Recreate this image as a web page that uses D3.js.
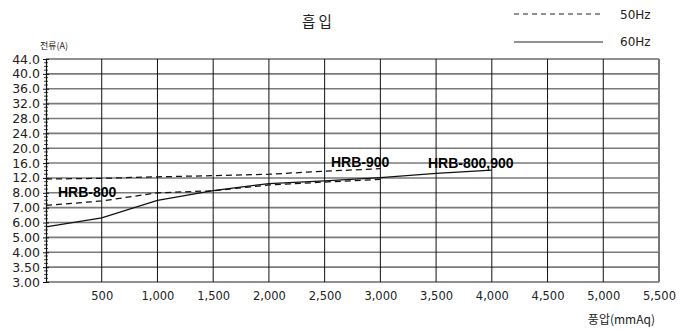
<!DOCTYPE html>
<html>
<head>
<meta charset="utf-8">
<script src="https://cdn.jsdelivr.net/npm/d3@7"></script>
<style>
  html, body { margin: 0; padding: 0; background: #fff; }
  svg { display: block; }
  text { font-family: "DejaVu Sans", sans-serif; fill: #222; }
</style>
</head>
<body>
<svg id="chart" width="687" height="330"></svg>
<script>
// Current (A) vs. static pressure (mmAq), suction side
const yTicks = [44.0, 40.0, 36.0, 32.0, 28.0, 24.0, 20.0, 16.0, 12.0, 8.00, 7.00, 6.00, 5.00, 4.00, 3.50, 3.00];
const yTickLabels = ["44.0", "40.0", "36.0", "32.0", "28.0", "24.0", "20.0", "16.0", "12.0", "8.00", "7.00", "6.00", "5.00", "4.00", "3.50", "3.00"];
const xTicks = [500, 1000, 1500, 2000, 2500, 3000, 3500, 4000, 4500, 5000, 5500];

// 50Hz – HRB-900
const hz50_900_x = [0, 500, 1000, 1500, 2000, 2500, 3000];
const hz50_900_y = [11.7, 11.9, 12.3, 12.6, 13.0, 13.8, 14.5];
// 50Hz – HRB-800
const hz50_800_x = [0, 500, 1000, 1500, 2000, 2500, 3000];
const hz50_800_y = [7.15, 7.45, 8.0, 8.55, 10.1, 10.9, 11.6];
// 60Hz – HRB-800,900
const hz60_x = [0, 500, 1000, 1500, 2000, 2500, 3000, 3500, 4000];
const hz60_y = [5.71, 6.31, 7.49, 8.6, 10.5, 11.2, 12.1, 13.2, 14.1];

const svg = d3.select("#chart");
const plotL = 46, plotR = 659, plotT = 59, plotB = 282;

const x = d3.scaleLinear().domain([0, 5500]).range([plotL, plotR]);
// evenly spaced rows, piecewise linear between labelled values
const yAsc = yTicks.slice().reverse();
const y = d3.scaleLinear()
  .domain(yAsc)
  .range(yAsc.map((d, i) => plotB - i * (plotB - plotT) / (yAsc.length - 1)));

// horizontal grid
svg.append("g").selectAll("line").data(yTicks).join("line")
  .attr("x1", plotL).attr("x2", plotR)
  .attr("y1", d => y(d)).attr("y2", d => y(d))
  .attr("stroke", d => d === 44.0 || d === 3.00 ? "#222" : "#7a7a7a")
  .attr("stroke-width", d => d === 44.0 || d === 3.00 ? 1.2 : 1.6);

// vertical grid
svg.append("g").selectAll("line").data(xTicks.slice(0, -1)).join("line")
  .attr("x1", d => x(d)).attr("x2", d => x(d))
  .attr("y1", plotT).attr("y2", plotB)
  .attr("stroke", "#111").attr("stroke-width", 1);
svg.append("line")
  .attr("x1", plotR).attr("x2", plotR).attr("y1", plotT).attr("y2", plotB)
  .attr("stroke", "#777").attr("stroke-width", 2);

// left axis with minor ticks
const yAxis = d3.axisLeft(y).tickValues(yTicks)
  .tickFormat((d, i) => yTickLabels[i]).tickSize(3).tickPadding(3);
const ya = svg.append("g").attr("transform", `translate(${plotL},0)`).call(yAxis);
ya.select(".domain").attr("stroke", "#111").attr("stroke-width", 1.2);
ya.selectAll(".tick line").attr("x2", -3).attr("x1", 3).attr("stroke", "#111");
ya.selectAll("text").style("font-size", "12.5px").style("fill", "#222");
const minor = [];
for (let i = 0; i < yAsc.length - 1; i++) {
  for (let k = 1; k < 4; k++) {
    const p = y(yAsc[i]) + (y(yAsc[i + 1]) - y(yAsc[i])) * k / 4;
    minor.push(p);
  }
}
svg.append("g").selectAll("line").data(minor).join("line")
  .attr("x1", plotL - 2).attr("x2", plotL + 2)
  .attr("y1", d => d).attr("y2", d => d)
  .attr("stroke", "#111").attr("stroke-width", 0.8);

// bottom axis
const xAxis = d3.axisBottom(x).tickValues(xTicks).tickFormat(d3.format(",")).tickSize(0).tickPadding(10);
const xa = svg.append("g").attr("transform", `translate(0,${plotB})`).call(xAxis);
xa.select(".domain").remove();
xa.selectAll("text").style("font-size", "11.5px").style("fill", "#222");

// curves
const line = d3.line().x(d => x(d[0])).y(d => y(d[1]));
const series = [
  { xs: hz50_900_x, ys: hz50_900_y, dash: "6,4" },
  { xs: hz50_800_x, ys: hz50_800_y, dash: "6,4" },
  { xs: hz60_x, ys: hz60_y, dash: null }
];
series.forEach(s => {
  svg.append("path")
    .datum(s.xs.map((v, i) => [v, s.ys[i]]))
    .attr("d", line)
    .attr("fill", "none")
    .attr("stroke", "#111")
    .attr("stroke-width", 1.25)
    .attr("stroke-dasharray", s.dash);
});

// series labels
const labels = [
  { t: "HRB-800", px: 58, py: 197 },
  { t: "HRB-900", px: 331, py: 167 },
  { t: "HRB-800,900", px: 428, py: 168 }
];
svg.append("g").selectAll("text").data(labels).join("text")
  .attr("x", d => d.px).attr("y", d => d.py)
  .text(d => d.t)
  .style("font-family", "'Liberation Sans', Arial, sans-serif")
  .style("font-weight", "bold")
  .style("font-size", "14px")
  .style("fill", "#000");

// title
svg.append("text").attr("x", 317).attr("y", 27).attr("text-anchor", "middle")
  .style("font-family", "'Noto Sans CJK KR', sans-serif")
  .style("font-size", "14.5px").text("흡 입");

// legend
svg.append("line").attr("x1", 514).attr("x2", 602).attr("y1", 14).attr("y2", 14)
  .attr("stroke", "#222").attr("stroke-width", 1).attr("stroke-dasharray", "5,4");
svg.append("line").attr("x1", 514).attr("x2", 603).attr("y1", 42).attr("y2", 42)
  .attr("stroke", "#222").attr("stroke-width", 1);
svg.append("text").attr("x", 620).attr("y", 19).style("font-size", "12px").text("50Hz");
svg.append("text").attr("x", 620).attr("y", 46).style("font-size", "12px").text("60Hz");

// axis titles
svg.append("text").attr("x", 40).attr("y", 49)
  .style("font-family", "'Noto Sans CJK KR', sans-serif")
  .style("font-size", "9px").text("전류(A)");
svg.append("text").attr("x", 655).attr("y", 324).attr("text-anchor", "end")
  .style("font-family", "'Noto Sans CJK KR', sans-serif")
  .style("font-size", "12px").text("풍압(mmAq)");
</script>
</body>
</html>
